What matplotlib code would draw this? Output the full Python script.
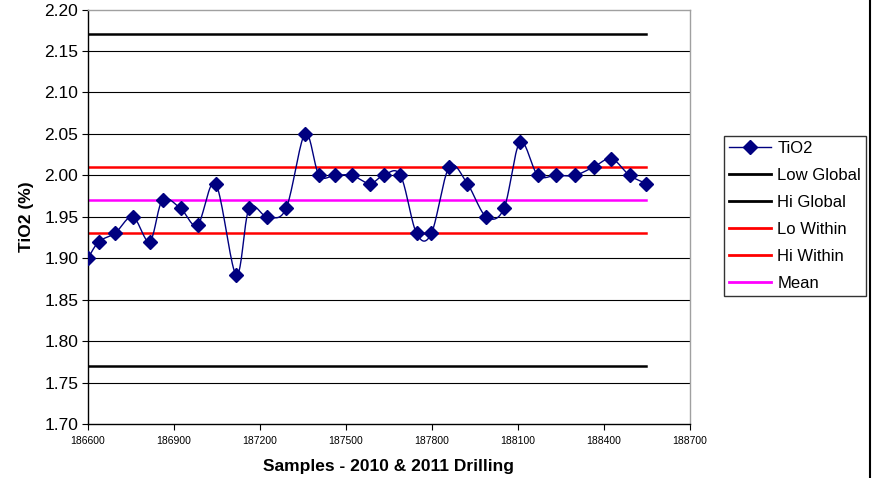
import numpy as np
import matplotlib
matplotlib.use("Agg")
import matplotlib.pyplot as plt
from matplotlib.lines import Line2D

plt.rcParams['font.family'] = ['Liberation Sans', 'DejaVu Sans']

samples = [186600, 186638, 186694, 186756, 186815, 186860, 186923, 186982, 187045, 187117,
           187162, 187225, 187291, 187357, 187406, 187461, 187520, 187583, 187631, 187690,
           187746, 187798, 187860, 187923, 187989, 188051, 188107, 188169, 188232, 188298,
           188364, 188426, 188489, 188548]
tio2 = [1.90, 1.92, 1.93, 1.95, 1.92, 1.97, 1.96, 1.94, 1.99, 1.88,
        1.96, 1.95, 1.96, 2.05, 2.00, 2.00, 2.00, 1.99, 2.00, 2.00,
        1.93, 1.93, 2.01, 1.99, 1.95, 1.96, 2.04, 2.00, 2.00, 2.00,
        2.01, 2.02, 2.00, 1.99]
low_global = 1.77
hi_global = 2.17
lo_within = 1.93
hi_within = 2.01
mean_val = 1.97

x_ticks = [186600, 186900, 187200, 187500, 187800, 188100, 188400, 188700]
y_ticks = [1.70, 1.75, 1.80, 1.85, 1.90, 1.95, 2.00, 2.05, 2.10, 2.15, 2.20]


def smooth(xs, ys, n=20):
    xs = np.asarray(xs, float); ys = np.asarray(ys, float)
    P = np.column_stack([xs, ys])
    out = [P[0]]
    m = len(P)
    for i in range(m - 1):
        p0 = P[i - 1] if i > 0 else P[i]
        p1 = P[i]; p2 = P[i + 1]
        p3 = P[i + 2] if i + 2 < m else P[i + 1]
        c1 = p1 + (p2 - p0) / 6.0
        c2 = p2 - (p3 - p1) / 6.0
        t = np.linspace(0, 1, n)[1:, None]
        seg = ((1 - t) ** 3) * p1 + 3 * ((1 - t) ** 2) * t * c1 + 3 * (1 - t) * t ** 2 * c2 + t ** 3 * p2
        out.extend(seg)
    out = np.array(out)
    return out[:, 0], out[:, 1]


W, H = 878, 478
fig = plt.figure(figsize=(W / 100, H / 100), dpi=100)
ax = fig.add_axes([88 / W, 1 - 424 / H, (690 - 88) / W, (424 - 9.5) / H])

for yv in y_ticks[1:-1]:
    ax.axhline(yv, color='black', lw=0.8, zorder=1)

xr = [samples[0], samples[-1]]
ax.plot(xr, [low_global] * 2, color='black', lw=1.8, zorder=2)
ax.plot(xr, [hi_global] * 2, color='black', lw=1.8, zorder=2)
ax.plot(xr, [lo_within] * 2, color='#ff0000', lw=1.8, zorder=2)
ax.plot(xr, [hi_within] * 2, color='#ff0000', lw=1.8, zorder=2)
ax.plot(xr, [mean_val] * 2, color='#ff00ff', lw=1.8, zorder=2)

sx, sy = smooth(samples, tio2)
ax.plot(sx, sy, color='#000080', lw=1.0, zorder=3)
ax.plot(samples, tio2, ls='none', marker='D', color='#000080', ms=7, zorder=4)

ax.set_xlim(186600, 188700)
ax.set_ylim(1.70, 2.20)
ax.set_xticks(x_ticks)
ax.set_xticklabels([str(v) for v in x_ticks], fontsize=7.5, family=['Liberation Sans Narrow', 'Liberation Sans'])
ax.set_yticks(y_ticks)
ax.set_yticklabels([f"{v:.2f}" for v in y_ticks], fontsize=12.5)
ax.tick_params(axis='both', direction='out', length=4, width=0.8, color='black')
ax.tick_params(axis='x', pad=5)
ax.tick_params(axis='y', pad=3)

for s in ['top', 'right']:
    ax.spines[s].set_color('#a0a0a0')
    ax.spines[s].set_linewidth(1.0)
for s in ['left', 'bottom']:
    ax.spines[s].set_color('black')
    ax.spines[s].set_linewidth(1.0)

ax.set_xlabel('Samples - 2010 & 2011 Drilling', fontsize=12.5, fontweight='bold', labelpad=9)
ax.set_ylabel('TiO2 (%)', fontsize=12.5, fontweight='bold', labelpad=7)

handles = [
    Line2D([], [], color='#000080', lw=1.0, marker='D', ms=7),
    Line2D([], [], color='black', lw=2),
    Line2D([], [], color='black', lw=2),
    Line2D([], [], color='#ff0000', lw=2),
    Line2D([], [], color='#ff0000', lw=2),
    Line2D([], [], color='#ff00ff', lw=2),
]
labels = ['TiO2', 'Low Global', 'Hi Global', 'Lo Within', 'Hi Within', 'Mean']
leg = fig.legend(handles, labels, loc='upper left', bbox_to_anchor=(724 / W, 1 - 136 / H),
                 fontsize=12, frameon=True, fancybox=False, edgecolor='black',
                 handlelength=2.5, handletextpad=0.4, labelspacing=0.72,
                 borderpad=0.3, borderaxespad=0)
leg.get_frame().set_linewidth(1.0)

fig.add_artist(Line2D([870 / W, 870 / W], [0, 1], color='black', lw=1.5, transform=fig.transFigure))

fig.savefig('out.png', dpi=100)
